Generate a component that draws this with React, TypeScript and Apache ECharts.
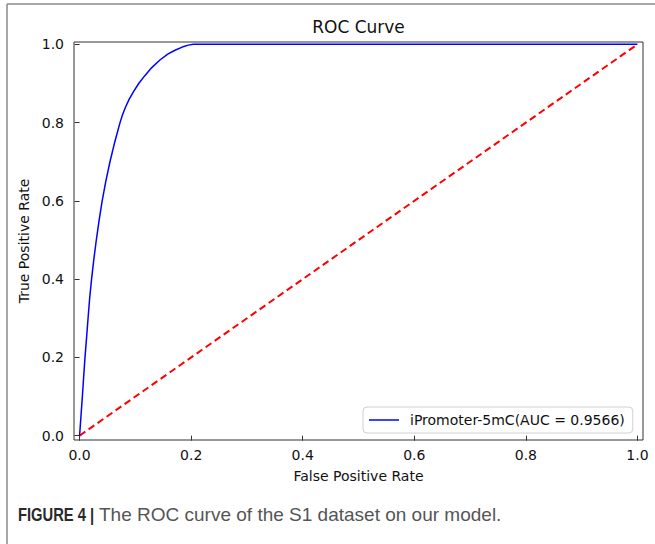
import React, { useEffect, useRef } from "react";
import * as echarts from "echarts";

const fpr = [0, 0.0025, 0.005, 0.0073, 0.0097, 0.0125, 0.0152, 0.018, 0.0215, 0.0255, 0.030, 0.035, 0.0405, 0.047, 0.0545, 0.063, 0.0725, 0.077, 0.0825, 0.089, 0.097, 0.106, 0.117, 0.129, 0.144, 0.158, 0.171, 0.184, 0.195, 0.204, 1.0];
const tpr = [0, 0.05, 0.10, 0.15, 0.20, 0.25, 0.30, 0.35, 0.40, 0.45, 0.50, 0.55, 0.60, 0.65, 0.70, 0.75, 0.80, 0.82, 0.84, 0.86, 0.88, 0.90, 0.92, 0.94, 0.96, 0.975, 0.985, 0.993, 0.998, 1.0, 1.0];
const diagX = [0, 1];
const diagY = [0, 1];
const xTicks = [0, 0.2, 0.4, 0.6, 0.8, 1.0];
const yTicks = [0, 0.2, 0.4, 0.6, 0.8, 1.0];
const seriesName = "iPromoter-5mC(AUC = 0.9566)";
const titleText = "ROC Curve";
const xName = "False Positive Rate";
const yName = "True Positive Rate";
const captionBold = "FIGURE 4 |";
const captionRest = "The ROC curve of the S1 dataset on our model.";

const FONT = "DejaVu Sans";

export default function App() {
  const ref = useRef<HTMLDivElement>(null);
  useEffect(() => {
    document.body.style.margin = "0";
    const chart = echarts.init(ref.current!, null, { renderer: "svg" });
    const axisCommon = {
      type: "value",
      axisLine: { show: false },
      splitLine: { show: false },
      axisTick: {
        show: true,
        length: 5,
        inside: false,
        lineStyle: { color: "#333", width: 1 },
      },
      axisLabel: {
        color: "#111",
        fontFamily: FONT,
        fontSize: 14,
        formatter: (v: number) => v.toFixed(1),
      },
      nameLocation: "middle",
      nameTextStyle: { color: "#111", fontFamily: FONT, fontSize: 14 },
    };
    chart.setOption({
      animation: false,
      backgroundColor: "#fff",
      grid: {
        left: 74,
        top: 42,
        width: 569,
        height: 398,
        show: true,
        borderColor: "#333",
        borderWidth: 1,
        backgroundColor: "transparent",
      },
      xAxis: {
        ...axisCommon,
        min: -0.01,
        max: 1.01,
        name: xName,
        nameGap: 29,
        axisTick: { ...axisCommon.axisTick, customValues: xTicks },
        axisLabel: { ...axisCommon.axisLabel, customValues: xTicks, margin: 8 },
      },
      yAxis: {
        ...axisCommon,
        min: -0.011,
        max: 1.006,
        name: yName,
        nameGap: 34,
        nameRotate: 90,
        axisTick: { ...axisCommon.axisTick, customValues: yTicks },
        axisLabel: { ...axisCommon.axisLabel, customValues: yTicks, margin: 10 },
      },
      legend: {
        show: true,
        data: [{ name: seriesName, icon: "rect" }],
        left: 363,
        top: 407,
        orient: "vertical",
        padding: [5, 8, 5, 6],
        itemWidth: 30,
        itemHeight: 1.5,
        borderColor: "#d0d0d0",
        borderWidth: 1,
        borderRadius: 4,
        backgroundColor: "rgba(255,255,255,0.8)",
        textStyle: { color: "#111", fontFamily: FONT, fontSize: 14, padding: [0, 0, 0, 6], lineHeight: 16 },
      },
      graphic: [
        {
          type: "line",
          shape: { x1: 7, y1: 4, x2: 655, y2: 4 },
          style: { stroke: "#8a8a8a", lineWidth: 1.5 },
          silent: true,
        },
        {
          type: "line",
          shape: { x1: 7, y1: 4, x2: 7, y2: 544 },
          style: { stroke: "#8a8a8a", lineWidth: 1.5 },
          silent: true,
        },
        {
          type: "text",
          x: 358.5,
          y: 27,
          style: {
            text: titleText,
            fill: "#111",
            font: `17px "${FONT}"`,
            align: "center",
            verticalAlign: "middle",
          },
        },
        {
          type: "text",
          x: 18,
          y: 514,
          scaleX: 0.82,
          style: {
            text: captionBold,
            fill: "#2a2a2a",
            font: `bold 18px "Liberation Sans"`,
            align: "left",
            verticalAlign: "middle",
          },
        },
        {
          type: "text",
          x: 99,
          y: 514,
          style: {
            text: captionRest,
            fill: "#555",
            font: `19px "Liberation Sans"`,
            align: "left",
            verticalAlign: "middle",
          },
        },
      ],
      series: [
        {
          name: "diag",
          type: "line",
          data: diagX.map((x, i) => [x, diagY[i]]),
          symbol: "none",
          lineStyle: { color: "#ff0000", width: 2, type: [7, 4] },
          itemStyle: { color: "#ff0000" },
          z: 3,
        },
        {
          name: seriesName,
          type: "line",
          data: fpr.map((x, i) => [x, tpr[i]]),
          symbol: "none",
          lineStyle: { color: "#0000ff", width: 1.5 },
          itemStyle: { color: "#0000ff" },
          z: 4,
        },
      ],
    });
    return () => chart.dispose();
  }, []);
  return (
    <div
      ref={ref}
      style={{ position: "absolute", left: 0, top: 0, width: 655, height: 544 }}
    />
  );
}
